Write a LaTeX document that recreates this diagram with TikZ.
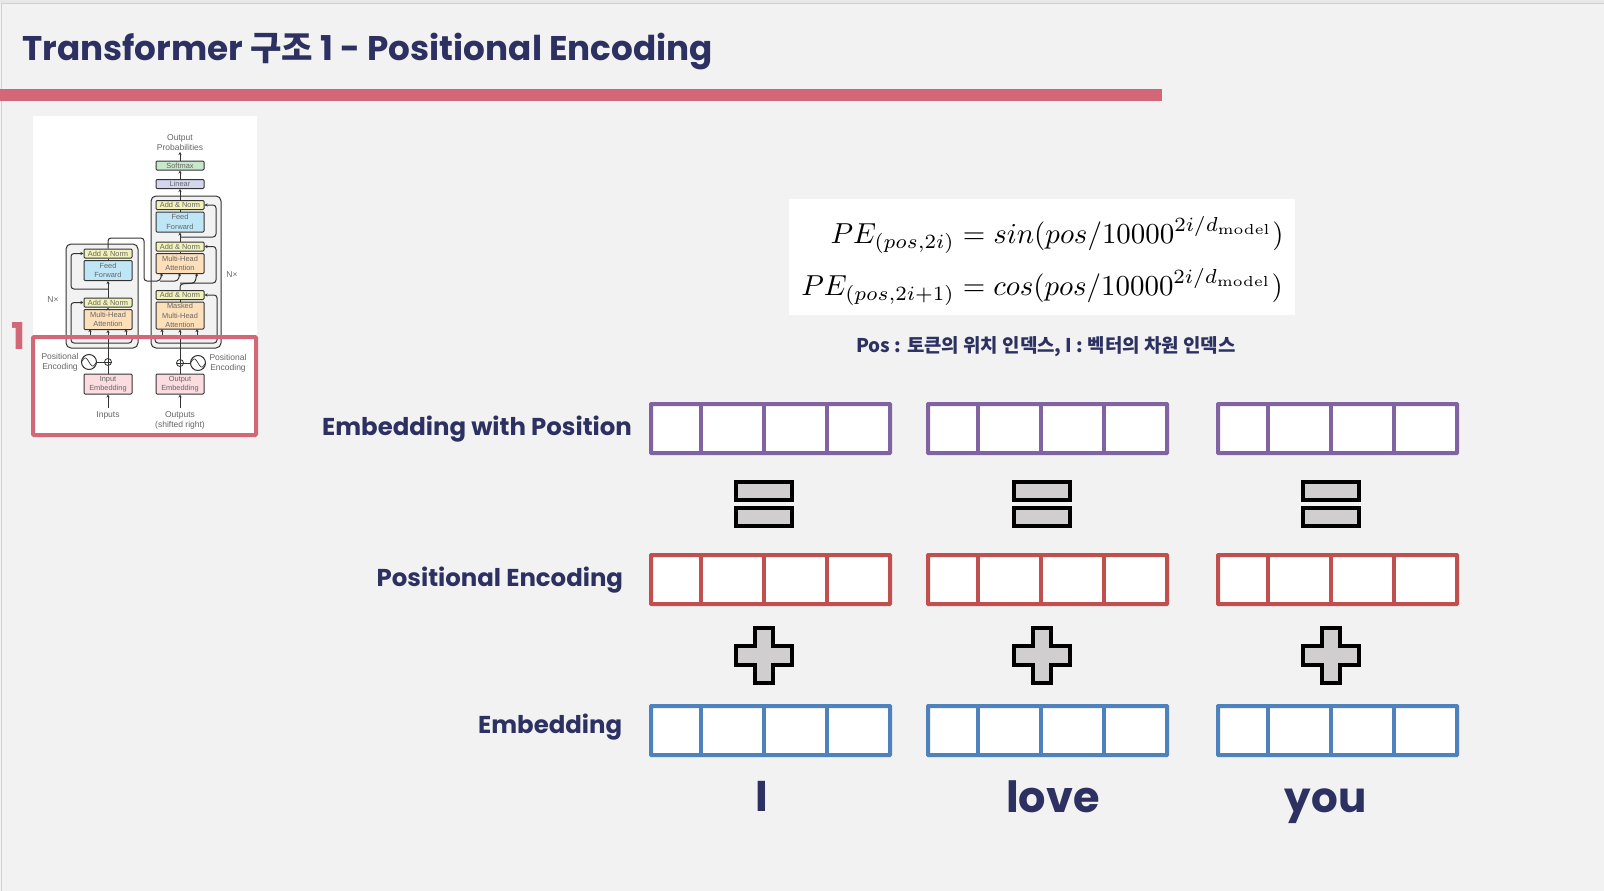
\documentclass[tikz,border=0pt]{standalone}
\usepackage{amsmath}
\usepackage[no-math]{fontspec}
\setmainfont{Poppins}
\newfontfamily\krfont{Noto Sans CJK KR}
\newfontfamily\smallfont{Liberation Sans}
\usetikzlibrary{arrows.meta, positioning, calc}
\definecolor{navy}{HTML}{2C3161}
\definecolor{barred}{HTML}{D26777}
\definecolor{vecpurple}{HTML}{8064A2}
\definecolor{vecred}{HTML}{C0504D}
\definecolor{vecblue}{HTML}{4F81BD}
\definecolor{signgray}{HTML}{D0CECE}
\definecolor{wire}{HTML}{333333}
\definecolor{addfill}{HTML}{F2F3B9}
\definecolor{feedfill}{HTML}{BFE6F7}
\definecolor{attnfill}{HTML}{FDDFB9}
\definecolor{embedfill}{HTML}{FBDDE1}
\definecolor{softfill}{HTML}{C9E7CB}
\definecolor{linearfill}{HTML}{D4D6EE}
\tikzset{
  heading/.style={anchor=base west, inner sep=0pt, text=navy, font=\bfseries},
  tinytext/.style={inner sep=0pt, align=center, text=black!60, font=\smallfont\fontsize{8.5}{10}\selectfont},
  layerbox/.style={draw=wire, line width=1pt, rounded corners=1pt, minimum width=48pt, inner sep=0pt,
    align=center, text=black!60, font=\smallfont\fontsize{7.4}{9.4}\selectfont},
  addnorm/.style={layerbox, fill=addfill, minimum height=9pt},
  feedforward/.style={layerbox, fill=feedfill, minimum height=20pt},
  attention/.style={layerbox, fill=attnfill, minimum height=20pt},
  embedbox/.style={layerbox, fill=embedfill, minimum height=20pt},
  wirearrow/.style={draw=wire, line width=1pt, rounded corners=3pt, -{Stealth[length=3pt,width=3pt]}},
  wireline/.style={draw=wire, line width=1pt, rounded corners=3pt},
  blockbox/.style={draw=wire, line width=1pt, fill=black!5, rounded corners=5pt},
  sign/.style={draw=black, line width=4pt, fill=signgray, miter limit=10},
  rowname/.style={heading, font=\bfseries\fontsize{24.4}{28}\selectfont},
  wordname/.style={heading, font=\bfseries\fontsize{43}{48}\selectfont},
}
\begin{document}
\begin{tikzpicture}[x=1pt, y=-1pt]
  \useasboundingbox (0,0) rectangle (1604,891);
  \fill[black!5] (0,0) rectangle (1604,891);
  % Slide edge
  \fill[black!9] (0,0) rectangle (1604,3);
  \draw[black!18, line width=1pt] (1604,3.5) -- (1.5,3.5) -- (1.5,891);
  % Title and bar
  \node[heading, font=\bfseries\fontsize{34.2}{40}\selectfont] (title) at (22,60.5)
    {Transformer {\krfont\bfseries 구조} 1 - Positional Encoding};
  \fill[barred] (0,89) rectangle (1162,101);

  % Picture of the model
  \fill[white] (33,116) rectangle (257,435);
  \draw[blockbox] (66,244) rectangle (138,348);
  \draw[blockbox] (151,196) rectangle (221,348);
  \node[tinytext] (outprob) at (180,143) {Output\\Probabilities};
  \node[layerbox, fill=softfill, minimum height=9pt] (softmax) at (180,165.5) {Softmax};
  \node[layerbox, fill=linearfill, minimum height=9pt] (linear) at (180,184) {Linear};
  % Decoder layers
  \node[addnorm] (decnormc) at (180,205) {Add \& Norm};
  \node[feedforward] (decfeed) at (180,222) {Feed\\Forward};
  \node[addnorm] (decnormb) at (180,246.5) {Add \& Norm};
  \node[attention] (decattn) at (180,263.5) {Multi-Head\\Attention};
  \node[addnorm] (decnorma) at (180,295) {Add \& Norm};
  \node[attention, minimum height=27pt] (decmask) at (180,315.5) {Masked\\Multi-Head\\Attention};
  % Encoder layers
  \node[addnorm] (encnormb) at (108,253.5) {Add \& Norm};
  \node[feedforward] (encfeed) at (108,270.5) {Feed\\Forward};
  \node[addnorm] (encnorma) at (108,302.5) {Add \& Norm};
  \node[attention] (encattn) at (108,319.5) {Multi-Head\\Attention};
  \node[tinytext] (encn) at (53,300) {N×};
  \node[tinytext] (decn) at (232,275) {N×};
  % Inputs
  \node[embedbox] (inembed) at (108,384) {Input\\Embedding};
  \node[embedbox] (outembed) at (180,384) {Output\\Embedding};
  \node[tinytext] (inputs) at (108,415.5) {Inputs};
  \node[tinytext] (outputs) at (180,420.5) {Outputs\\(shifted right)};
  \node[tinytext] (inpos) at (60,362) {Positional\\Encoding};
  \node[tinytext] (outpos) at (228,363) {Positional\\Encoding};
  \node[draw=wire, line width=1pt, circle, minimum size=15pt, inner sep=0pt] (insine) at (89,362) {};
  \node[draw=wire, line width=1pt, circle, minimum size=15pt, inner sep=0pt] (outsine) at (198,363) {};
  \node[draw=wire, line width=.8pt, circle, minimum size=7pt, inner sep=0pt] (inplus) at (108,362) {};
  \node[draw=wire, line width=.8pt, circle, minimum size=7pt, inner sep=0pt] (outplus) at (180,363) {};
  \draw[wire, line width=.7pt] plot[smooth, domain=-7.5:7.5, samples=25] ({89+\x},{362+4*sin(24*\x)});
  \draw[wire, line width=.7pt] plot[smooth, domain=-7.5:7.5, samples=25] ({198+\x},{363+4*sin(24*\x)});
  \draw[wire, line width=.6pt] (inplus.west) -- (inplus.east) (inplus.north) -- (inplus.south);
  \draw[wire, line width=.6pt] (outplus.west) -- (outplus.east) (outplus.north) -- (outplus.south);
  % Connectors
  \coordinate (inbottom) at (108,408);
  \coordinate (outbottom) at (180,408);
  \coordinate (outtop) at (180,152);
  \draw[wirearrow] (inbottom) -- (inembed);
  \draw[wirearrow] (outbottom) -- (outembed);
  \draw[wireline] (inembed) -- (inplus);
  \draw[wireline] (outembed) -- (outplus);
  \draw[wireline] (insine) -- (inplus);
  \draw[wireline] (outsine) -- (outplus);
  \draw[wirearrow] (inplus) -- (encattn);
  \draw[wirearrow] (outplus) -- (decmask);
  \draw[wirearrow] (90,336) -- (90,329);
  \draw[wirearrow] (126,336) -- (126,329);
  \draw[wirearrow] (162,336) -- (162,329);
  \draw[wirearrow] (197,336) -- (197,329);
  \draw[wireline] (90,336) -- (126,336);
  \draw[wireline] (162,336) -- (197,336);
  \draw[wirearrow] (encattn) -- (encnorma);
  \draw[wirearrow] (encnorma) -- (encfeed);
  \draw[wireline] (encfeed) -- (encnormb);
  \draw[wireline] (decmask) -- (decnorma);
  \draw[wireline] (decattn) -- (decnormb);
  \draw[wirearrow] (decnormb) -- (decfeed);
  \draw[wireline] (decfeed) -- (decnormc);
  \draw[wirearrow] (decnormc) -- (linear);
  \draw[wirearrow] (linear) -- (softmax);
  \draw[wirearrow] (softmax) -- (outtop);
  % Skip lines, encoder
  \draw[wirearrow] (132,336) -- (132,343) -- (71,343) -- (71,302.5) -- (encnorma.west);
  \draw[wirearrow] (108,289) -- (71,289) -- (71,253.5) -- (encnormb.west);
  % Skip lines, decoder
  \draw[wirearrow] (155,336) -- (155,343) -- (217,343) -- (217,295) -- (decnorma.east);
  \draw[wirearrow] (180,283) -- (216,283) -- (216,246.5) -- (decnormb.east);
  \draw[wirearrow] (180,237) -- (216,237) -- (216,205) -- (decnormc.east);
  % Encoder to decoder
  \draw[wirearrow] (encnormb.north) -- (108,238) -- (144,238) -- (144,281) -- (160,281) -- (162,273);
  \draw[wirearrow] (160,281) -- (178,281) -- (180,273);
  \draw[wirearrow] (decnorma.north) -- (180,284) -- (195,283) -- (197,273);

  % Box of part 1
  \draw[barred, line width=4pt, rounded corners=1pt] (33,337) rectangle (256,435);
  \node[anchor=base west, inner sep=0pt, text=barred, font=\bfseries\fontsize{37}{40}\selectfont] (partnum) at (11.5,349) {1};

  % Formula
  \node[fill=white, minimum width=506pt, minimum height=116pt, inner sep=0pt] (formulabg) at (1042,257) {};
  \node[scale=2.89, inner sep=0pt] (formula) at (1042.5,261)
    {$\begin{aligned} PE_{(pos,2i)} &= sin(pos/10000^{2i/d_{\mathrm{model}}}) \\[1pt]
      PE_{(pos,2i+1)} &= cos(pos/10000^{2i/d_{\mathrm{model}}}) \end{aligned}$};
  \node[heading, font=\krfont\bfseries\fontsize{18.9}{20}\selectfont] (legend) at (856,352)
    {Pos : 토큰의 위치 인덱스, I : 벡터의 차원 인덱스};

  % Row names
  \node[rowname] (posembed) at (322,435) {Embedding with Position};
  \node[rowname] (posenc) at (376.5,586) {Positional Encoding};
  \node[rowname] (embed) at (478,733) {Embedding};

  % Vectors and signs, one column each
  \foreach \shift/\signshift in {0/0, 277/1, 567/0} {
    \begin{scope}[xshift=\shift pt]
      \foreach \rowtop/\rowcolor in {404/vecpurple, 555/vecred, 706/vecblue} {
        \draw[\rowcolor, line width=4pt, fill=white, rounded corners=.5pt] (651,\rowtop) rectangle (890,\rowtop+49);
        \foreach \cellx in {701,764,827}
          \draw[\rowcolor, line width=4pt] (\cellx,\rowtop) -- (\cellx,\rowtop+49);
      }
      \begin{scope}[xshift=\signshift pt]
        % Equals
        \draw[sign] (736,482) rectangle (792,500);
        \draw[sign] (736,508) rectangle (792,526);
        % Plus
        \draw[sign] (755,628) -- (773,628) -- (773,646) -- (792,646) -- (792,665) -- (773,665)
          -- (773,683) -- (755,683) -- (755,665) -- (736,665) -- (736,646) -- (755,646) -- cycle;
      \end{scope}
    \end{scope}
  }

  % Words
  \node[wordname] (wordi) at (755,811) {I};
  \node[wordname] (wordlove) at (1006,812) {love};
  \node[wordname, font=\bfseries\fontsize{42}{48}\selectfont] (wordyou) at (1284.5,812) {you};
\end{tikzpicture}
\end{document}
